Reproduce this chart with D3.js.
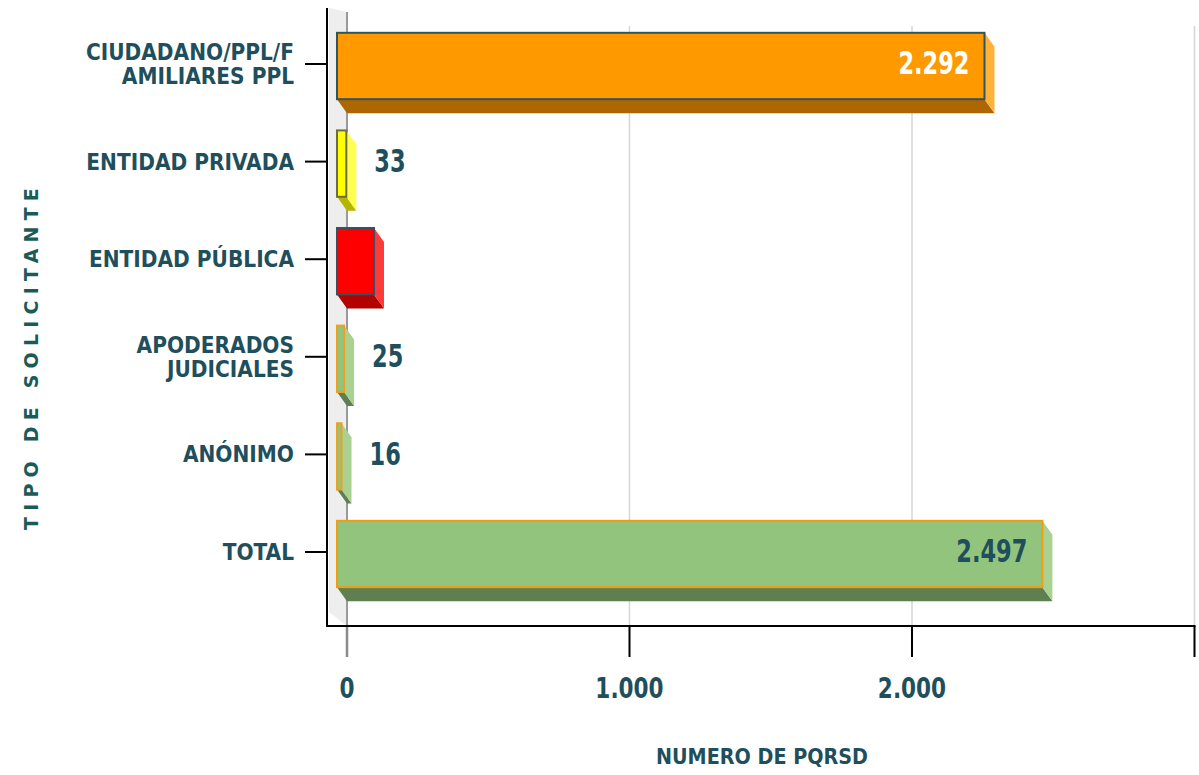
<!DOCTYPE html>
<html>
<head>
<meta charset="utf-8">
<script src="https://cdn.jsdelivr.net/npm/d3@7"></script>
<style>
  html, body { margin: 0; padding: 0; background: #ffffff; }
  svg { display: block; }
  .cond { font-family: "DejaVu Sans Condensed", "DejaVu Sans", sans-serif; font-stretch: condensed; font-weight: bold; }
</style>
</head>
<body>
<svg id="chart" width="1199" height="775"></svg>
<script>
// ---------------- data ----------------
const categories = [
  "CIUDADANO/PPL/FAMILIARES PPL",
  "ENTIDAD PRIVADA",
  "ENTIDAD PÚBLICA",
  "APODERADOS JUDICIALES",
  "ANÓNIMO",
  "TOTAL"
];
const categoryLabelLines = [
  ["CIUDADANO/PPL/F", "AMILIARES PPL"],
  ["ENTIDAD PRIVADA"],
  ["ENTIDAD PÚBLICA"],
  ["APODERADOS", "JUDICIALES"],
  ["ANÓNIMO"],
  ["TOTAL"]
];
const values = [2292, 33, 131, 25, 16, 2497];
const valueLabelShown = [true, true, false, true, true, true];
const xTicks = [0, 1000, 2000, 3000];
const xTickLabels = ["0", "1.000", "2.000", ""];
const xTitle = "NUMERO DE PQRSD";
const yTitle = "TIPO DE SOLICITANTE";

// ---------------- styles ----------------
const barFront  = ["#ff9900", "#ffff00", "#ff0000", "#93c47d", "#93c47d", "#93c47d"];
const barBorder = ["#2f5560", "#6b6b4a", "#3c4f5c", "#f0a020", "#f0a020", "#f39c12"];
const barSide   = ["#ffb23a", "#ffff50", "#ff3a3a", "#a9d191", "#a9d191", "#a9d191"];
const barBottom = ["#ae6700", "#b5b500", "#b30000", "#5e7f4f", "#5e7f4f", "#5e7f4f"];
const valueColor = ["#ffffff", "#1f4f5c", "#1f4f5c", "#1f4f5c", "#1f4f5c", "#1f4f5c"];
const textColor = "#1f4f5c";

const svg = d3.select("#chart");

const depthX = 10, depthY = 14;
const axisLeftX = 327, axisBottomY = 626;

const x = d3.scaleLinear().domain([0, 3000]).range([337, 1184.5]);
const y = d3.scaleBand().domain(categories).range([15.2, 600.8]).paddingInner(0.32).paddingOuter(0.16);
const fmt = d3.formatLocale({decimal: ",", thousands: ".", grouping: [3], currency: ["$", ""]}).format(",d");

// side wall
svg.append("polygon")
  .attr("points", [[329, 8], [347, 12], [347, axisBottomY], [329, 612]].map(p => p.join(",")).join(" "))
  .attr("fill", "#eeeeee");

// gridlines (back plane)
const grid = svg.append("g");
xTicks.forEach((t, i) => {
  const gx = x(t) + depthX;
  grid.append("line")
    .attr("x1", gx).attr("x2", gx)
    .attr("y1", i === 0 ? 12 : 26).attr("y2", axisBottomY)
    .attr("stroke", i === 0 ? "#9a9a9a" : "#d6d6d6")
    .attr("stroke-width", i === 0 ? 2 : 1.5);
  grid.append("line")
    .attr("x1", gx).attr("x2", gx)
    .attr("y1", axisBottomY).attr("y2", 657)
    .attr("stroke", i === 0 ? "#8a8a8a" : "#000")
    .attr("stroke-width", i === 0 ? 2.5 : 2);
});

// bars (3D)
const bars = svg.append("g");
categories.forEach((c, i) => {
  const x0 = x(0), x1 = x(values[i]);
  const y0 = y(c) + 2, y1 = y(c) + 2 + y.bandwidth();
  const g = bars.append("g");
  g.append("polygon")
    .attr("points", [[x0, y1], [x1, y1], [x1 + depthX, y1 + depthY], [x0 + depthX, y1 + depthY]].map(p => p.join(",")).join(" "))
    .attr("fill", barBottom[i]);
  g.append("polygon")
    .attr("points", [[x1, y0], [x1 + depthX, y0 + depthY], [x1 + depthX, y1 + depthY], [x1, y1]].map(p => p.join(",")).join(" "))
    .attr("fill", barSide[i]);
  g.append("rect")
    .attr("x", x0).attr("y", y0)
    .attr("width", Math.max(0, x1 - x0)).attr("height", y1 - y0)
    .attr("fill", barFront[i])
    .attr("stroke", barBorder[i])
    .attr("stroke-width", 2);
});

// axes lines
svg.append("line").attr("x1", axisLeftX).attr("x2", axisLeftX).attr("y1", 8).attr("y2", axisBottomY + 1)
  .attr("stroke", "#000").attr("stroke-width", 2);
svg.append("line").attr("x1", axisLeftX - 1).attr("x2", x(3000) + depthX + 1).attr("y1", axisBottomY).attr("y2", axisBottomY)
  .attr("stroke", "#000").attr("stroke-width", 2);

// y ticks and labels
categories.forEach((c, i) => {
  const cy = y(c) + y.bandwidth() / 2;
  svg.append("line").attr("x1", 305).attr("x2", axisLeftX).attr("y1", cy).attr("y2", cy)
    .attr("stroke", "#000").attr("stroke-width", 2);
  const lines = categoryLabelLines[i];
  const lh = 24;
  lines.forEach((ln, k) => {
    const ly = cy + (k - (lines.length - 1) / 2) * lh;
    svg.append("text").attr("class", "cond")
      .attr("x", 294).attr("y", ly).attr("dy", "0.36em")
      .attr("text-anchor", "end")
      .attr("font-size", 22.4)
      .attr("fill", textColor)
      .text(ln);
  });
});

// value labels
categories.forEach((c, i) => {
  if (!valueLabelShown[i]) return;
  const cy = y(c) + y.bandwidth() / 2 - 1;
  const inside = values[i] > 500;
  const lx = inside ? x(values[i]) - 15 : x(values[i]) + 28;
  svg.append("text").attr("class", "cond")
    .attr("transform", `translate(${lx},${cy}) scale(1,1.25)`)
    .attr("dy", "0.36em")
    .attr("text-anchor", inside ? "end" : "start")
    .attr("font-size", 25)
    .attr("fill", valueColor[i])
    .text(fmt(values[i]));
});

// x tick labels
xTicks.forEach((t, i) => {
  if (!xTickLabels[i]) return;
  svg.append("text").attr("class", "cond")
    .attr("transform", `translate(${x(t) + depthX},${688}) scale(1,1.18)`)
    .attr("dy", "0.36em")
    .attr("text-anchor", "middle")
    .attr("font-size", 24)
    .attr("fill", textColor)
    .text(xTickLabels[i]);
});

// axis titles
svg.append("text").attr("class", "cond")
  .attr("x", 762).attr("y", 756).attr("dy", "0.36em")
  .attr("text-anchor", "middle")
  .attr("font-size", 21.3)
  .attr("fill", textColor)
  .text(xTitle);

svg.append("text")
  .attr("transform", "translate(31,356) rotate(-90)")
  .attr("dy", "0.36em")
  .attr("text-anchor", "middle")
  .attr("font-family", "DejaVu Sans, Verdana, sans-serif")
  .attr("font-weight", "bold")
  .attr("font-size", 19)
  .attr("letter-spacing", "6.2px")
  .attr("fill", "#1b5b57")
  .text(yTitle);
</script>
</body>
</html>
